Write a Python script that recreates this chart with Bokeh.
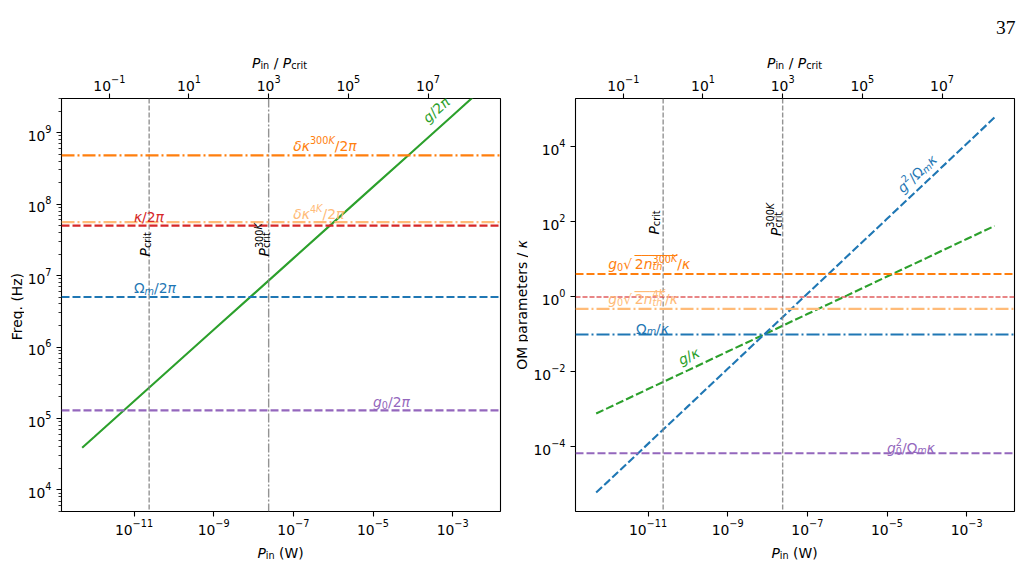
import math

from bokeh.embed import file_html
from bokeh.layouts import column, row
from bokeh.models import (FixedTicker, Label, LogAxis, LogScale, LogTickFormatter,
                          Range1d, Span)
from bokeh.plotting import figure
from bokeh.resources import INLINE

# ---------------------------------------------------------------- data
# input power sweep (W) and the power-dependent quantities
P_in = [5e-13, 1e-12, 1e-11, 1e-10, 1e-9, 1e-8, 1e-7, 1e-6, 1e-5, 1e-4, 1e-3, 5e-3]
g_2pi = [3.9e4, 5.5e4, 1.74e5, 5.5e5, 1.74e6, 5.5e6, 1.74e7, 5.5e7, 1.74e8, 5.5e8, 1.74e9, 3.9e9]
g_over_kappa = [7.8e-4, 1.1e-3, 3.5e-3, 1.1e-2, 3.5e-2, 0.11, 0.35, 1.1, 3.5, 11.0, 35.0, 78.0]
cooperativity = [6.1e-6, 1.21e-5, 1.21e-4, 1.21e-3, 1.21e-2, 0.121, 1.21, 12.1, 121.0, 1210.0, 1.21e4, 6.1e4]

# critical powers (W)
P_crit = 2.4e-11
P_crit_300K = 2.4e-8

# constant frequencies (Hz)
dkappa_300K_2pi = 4.8e8
dkappa_4K_2pi = 5.6e7
kappa_2pi = 5.0e7
omega_m_2pi = 5.0e6
g0_2pi = 1.3e5

# constant OM parameters normalised to kappa
thermal_300K_ratio = 4.1
kappa_ratio = 1.0
thermal_4K_ratio = 0.48
omega_m_ratio = 0.1
single_photon_coop = 6.8e-5

# tick positions
bottom_ticks = [1e-11, 1e-9, 1e-7, 1e-5, 1e-3]
top_ticks = [1e-1, 1e1, 1e3, 1e5, 1e7]
left_ticks = [1e4, 1e5, 1e6, 1e7, 1e8, 1e9]
left_minor = [k * 10.0 ** e for e in range(3, 10) for k in range(2, 10)]
right_ticks = [1e-4, 1e-2, 1e0, 1e2, 1e4]

# ---------------------------------------------------------------- style
BLUE, ORANGE, GREEN, RED, PURPLE, LORANGE = (
    "#1f77b4", "#ff7f0e", "#2ca02c", "#d62728", "#9467bd", "#ffbb78")
GRAY = "#808080"
FONT = "DejaVu Sans"
S = 13.9      # base text size (px)
SS = 9.7      # script size (px)
SUP = 5.5     # superscript rise (px)
SUB = -2.8    # subscript drop (px)
LW = 2.1
DASH = "8 3"
DASHDOT = "13 3 2 3"
NBSP = "\u00a0"

X0, X1 = 10 ** -12.82, 10 ** -1.80
Y0L, Y1L = 5e3, 3e9
Y0R, Y1R = 10 ** -5.72, 10 ** 5.29

TOP_H, PANEL_H, BOTTOM_H = 71, 466, 24

# approximate advance widths (em) of DejaVu Sans
ADV = {"g": 0.635, "κ": 0.58, "π": 0.60, "δ": 0.612, "Ω": 0.764, "/": 0.337,
       " ": 0.318, NBSP: 0.318, "P": 0.603, "i": 0.278, "n": 0.634, "c": 0.55,
       "r": 0.411, "t": 0.392, "h": 0.634, "m": 0.974, "K": 0.656, "(": 0.39,
       ")": 0.39, "W": 0.989, "√": 0.838, "_": 0.5, "F": 0.575, "e": 0.615,
       "q": 0.635, ".": 0.318, "H": 0.752, "z": 0.525, "O": 0.787, "M": 0.863,
       "a": 0.613, "p": 0.635, "s": 0.521}
for d in "0123456789":
    ADV[d] = 0.636


def tw(text, size):
    return sum(ADV.get(c, 0.6) for c in text) * size


def I(t):
    return (t, S, 0.0, True, 0.0)


def U(t):
    return (t, S, 0.0, False, 0.0)


def sub(t, it=False, shift=0.0, drop=SUB):
    return (t, SS, drop, it, shift)


def sup(t, it=False, shift=0.0):
    return (t, SS, SUP, it, shift)


def sup_k(digits):
    """Superscript like 300K: upright digits followed by an italic K."""
    return [sup(digits), sup("K", True, tw(digits, SS))]


def rich(p, x, y, parts, color, angle=0.0, align="left", dx=0.0, dy=0.0,
         alpha=1.0):
    """Lay out runs of text (with sub/superscripts) from an anchor point.

    Each part is a run (text, size, rise, italic, shift) or a list of runs
    that share the same starting point (stacked scripts).
    """
    groups = [pt if isinstance(pt, list) else [pt] for pt in parts]
    widths = [max(r[4] + tw(r[0], r[1]) for r in g) for g in groups]
    total = sum(widths)
    pos = {"left": 0.0, "center": -total / 2, "right": -total}[align]
    ca, sa = math.cos(angle), math.sin(angle)
    starts = []
    for g, w in zip(groups, widths):
        starts.append(pos)
        for t, sz, rise, it, shift in g:
            a = pos + shift
            p.add_layout(Label(
                x=x, y=y, x_offset=dx + a * ca - rise * sa,
                y_offset=dy + a * sa + rise * ca, text=t.replace(" ", NBSP),
                angle=angle, text_font=FONT, text_font_size=f"{sz}px",
                text_font_style="italic" if it else "normal",
                text_color=color, text_alpha=alpha,
                text_align="left", text_baseline="alphabetic"))
        pos += w
    starts.append(pos)
    return starts


def sqrt_label(p, x, y, digits, color):
    """g0 sqrt(2 n_th^{digits K}) / kappa with an overbar on the radicand."""
    parts = [I("g"), sub("0"), U("√"), U("2"), I("n"),
             [sub("th", True)] + sup_k(digits), U("/"), I("κ")]
    starts = rich(p, x, y, parts, color)
    bar_start, bar_end = starts[3], starts[6]
    bar_w = bar_end - bar_start
    n = max(1, round(bar_w / (0.5 * S)))
    bsz = bar_w / (0.5 * n)
    p.add_layout(Label(x=x, y=y, x_offset=bar_start, y_offset=13.2 + 0.2 * bsz,
                       text="_" * n, text_font=FONT, text_font_size=f"{bsz:.2f}px",
                       text_color=color, text_align="left",
                       text_baseline="alphabetic"))


def style_axis(ax, ticks, minor=(), standoff=3):
    ax.ticker = FixedTicker(ticks=list(ticks), minor_ticks=list(minor))
    ax.formatter = LogTickFormatter()
    ax.axis_line_color = None
    ax.major_tick_out = 5
    ax.major_tick_in = 0
    ax.minor_tick_out = 3
    ax.minor_tick_in = 0
    ax.major_tick_line_width = 1.1
    ax.minor_tick_line_width = 0.8
    ax.major_tick_line_color = "black"
    ax.minor_tick_line_color = "black"
    ax.major_label_text_font = FONT
    ax.major_label_text_font_size = f"{S}px"
    ax.major_label_text_color = "black"
    ax.major_label_standoff = standoff
    ax.axis_label = None


def make_panel(width, y0, y1, left_border, right_border, yticks, yminor):
    p = figure(width=width, height=PANEL_H, x_axis_type="log", y_axis_type="log",
               x_range=Range1d(X0, X1), y_range=Range1d(y0, y1),
               toolbar_location=None, output_backend="svg",
               min_border_left=left_border, min_border_right=right_border,
               min_border_top=97 - TOP_H, min_border_bottom=26)
    p.grid.visible = False
    p.outline_line_color = "black"
    p.outline_line_width = 1.1
    p.background_fill_color = "white"
    p.border_fill_color = "white"
    style_axis(p.xaxis[0], bottom_ticks, standoff=2)
    style_axis(p.yaxis[0], yticks, yminor, standoff=5)
    p.extra_x_ranges = {"ratio": Range1d(X0 / P_crit, X1 / P_crit)}
    p.extra_x_scales = {"ratio": LogScale()}
    top = LogAxis(x_range_name="ratio")
    style_axis(top, top_ticks, standoff=3)
    p.add_layout(top, "above")
    return p


def strip(width, height):
    """Blank canvas in pixel coordinates for titles outside the plot frames."""
    s = figure(width=width, height=height, x_range=Range1d(0, width),
               y_range=Range1d(0, height), toolbar_location=None,
               output_backend="svg", x_axis_location=None, y_axis_location=None,
               min_border_left=0, min_border_right=0, min_border_top=0,
               min_border_bottom=0)
    s.grid.visible = False
    s.outline_line_color = None
    s.background_fill_color = "white"
    s.border_fill_color = "white"
    return s


def hline(p, v, color, dash, width=LW, alpha=1.0):
    p.add_layout(Span(location=v, dimension="width", line_color=color,
                      line_dash=dash, line_width=width, line_alpha=alpha))


def vline(p, v, dash):
    p.add_layout(Span(location=v, dimension="height", line_color=GRAY,
                      line_dash=dash, line_width=1.4, line_alpha=0.85))


# ---------------------------------------------------------------- left panel
left = make_panel(479, Y0L, Y1L, 36, 3, left_ticks, left_minor)
vline(left, P_crit, "5 2")
vline(left, P_crit_300K, "9 2 2 2")
hline(left, dkappa_300K_2pi, ORANGE, DASHDOT)
hline(left, dkappa_4K_2pi, LORANGE, DASHDOT)
hline(left, kappa_2pi, RED, DASH)
hline(left, omega_m_2pi, BLUE, DASH)
hline(left, g0_2pi, PURPLE, DASH)
left.line(P_in, g_2pi, line_color=GREEN, line_width=LW)

rich(left, 2.0e-4, 1.5e9, [I("g"), U("/2"), I("π")], GREEN, angle=math.radians(41.9))
rich(left, 1e-7, 6.5e8, [I("δκ"), sup_k("300"), U("/2"), I("π")], ORANGE)
rich(left, 1e-7, 7.2e7, [I("δκ"), sup_k("4"), U("/2"), I("π")], LORANGE)
rich(left, 1e-11, 6.6e7, [I("κ"), U("/2"), I("π")], RED)
rich(left, 1e-11, 6.6e6, [U("Ω"), sub("m", True), U("/2"), I("π")], BLUE)
rich(left, 1e-5, 1.7e5, [I("g"), sub("0"), U("/2"), I("π")], PURPLE)
rich(left, P_crit, 1.85e7, [I("P"), sub("crit")], "black",
     angle=math.pi / 2, dx=-4.5)
rich(left, P_crit_300K, 1.85e7, [I("P"), [sub("crit")] + sup_k("300")], "black",
     angle=math.pi / 2, dx=-4.5)

# ---------------------------------------------------------------- right panel
right = make_panel(496, Y0R, Y1R, 47, 10, right_ticks, ())
vline(right, P_crit, "5 2")
vline(right, P_crit_300K, "5 2")
hline(right, thermal_300K_ratio, ORANGE, DASH)
hline(right, kappa_ratio, RED, "5 2", width=1.4, alpha=0.75)
hline(right, thermal_4K_ratio, LORANGE, DASHDOT)
hline(right, omega_m_ratio, BLUE, DASHDOT)
hline(right, single_photon_coop, PURPLE, DASH)
right.line(P_in, g_over_kappa, line_color=GREEN, line_width=LW, line_dash=DASH)
right.line(P_in, cooperativity, line_color=BLUE, line_width=LW, line_dash=DASH)

rich(right, 2.07e-5, 700, [I("g"), sup("2"), U("/Ω"), sub("m", True), I("κ")], BLUE,
     angle=math.radians(43.3))
sqrt_label(right, 1e-12, 7.5, "300", ORANGE)
sqrt_label(right, 1e-12, 0.87, "4", LORANGE)
rich(right, 5e-12, 0.138, [U("Ω"), sub("m", True), U("/"), I("κ")], BLUE)
rich(right, 6e-11, 0.02, [I("g"), U("/"), I("κ")], GREEN, angle=math.radians(25.2))
rich(right, 1e-5, 9.5e-5, [I("g"), [sub("0"), sup("2")], U("/Ω"), sub("m", True), I("κ")],
     PURPLE)
rich(right, P_crit, 46, [I("P"), sub("crit")], "black", angle=math.pi / 2, dx=-9)
rich(right, P_crit_300K, 42, [I("P"), [sub("crit")] + sup_k("300")], "black",
     angle=math.pi / 2, dx=-7)

# ---------------------------------------------------------------- titles
top_strip = strip(1024, TOP_H)
top_title = [I("P"), sub("in", drop=-2.3), U(" / "), I("P"), sub("crit", drop=-2.3)]
rich(top_strip, 279, 8.5, top_title, "black", align="center")
rich(top_strip, 794, 8.5, top_title, "black", align="center")
top_strip.add_layout(Label(x=1015, y=TOP_H - 27, text="37", text_font="Liberation Serif",
                           text_font_size="19.5px", text_color="black",
                           text_align="right", text_baseline="alphabetic"))

left_strip = strip(24, PANEL_H)
rich(left_strip, 16.5, 232, [U("Freq. (Hz)")], "black", angle=math.pi / 2,
     align="center")

mid_strip = strip(25, PANEL_H)
rich(mid_strip, 18, 233, [U("OM parameters / "), I("κ")], "black",
     angle=math.pi / 2, align="center")

bottom_strip = strip(1024, BOTTOM_H)
rich(bottom_strip, 280, 9, [I("P"), sub("in"), U(" (W)")], "black", align="center")
rich(bottom_strip, 794, 9, [I("P"), sub("in"), U(" (W)")], "black", align="center")

layout = column(top_strip, row(left_strip, left, mid_strip, right), bottom_strip)
open("out.html", "w").write(file_html(layout, INLINE))
